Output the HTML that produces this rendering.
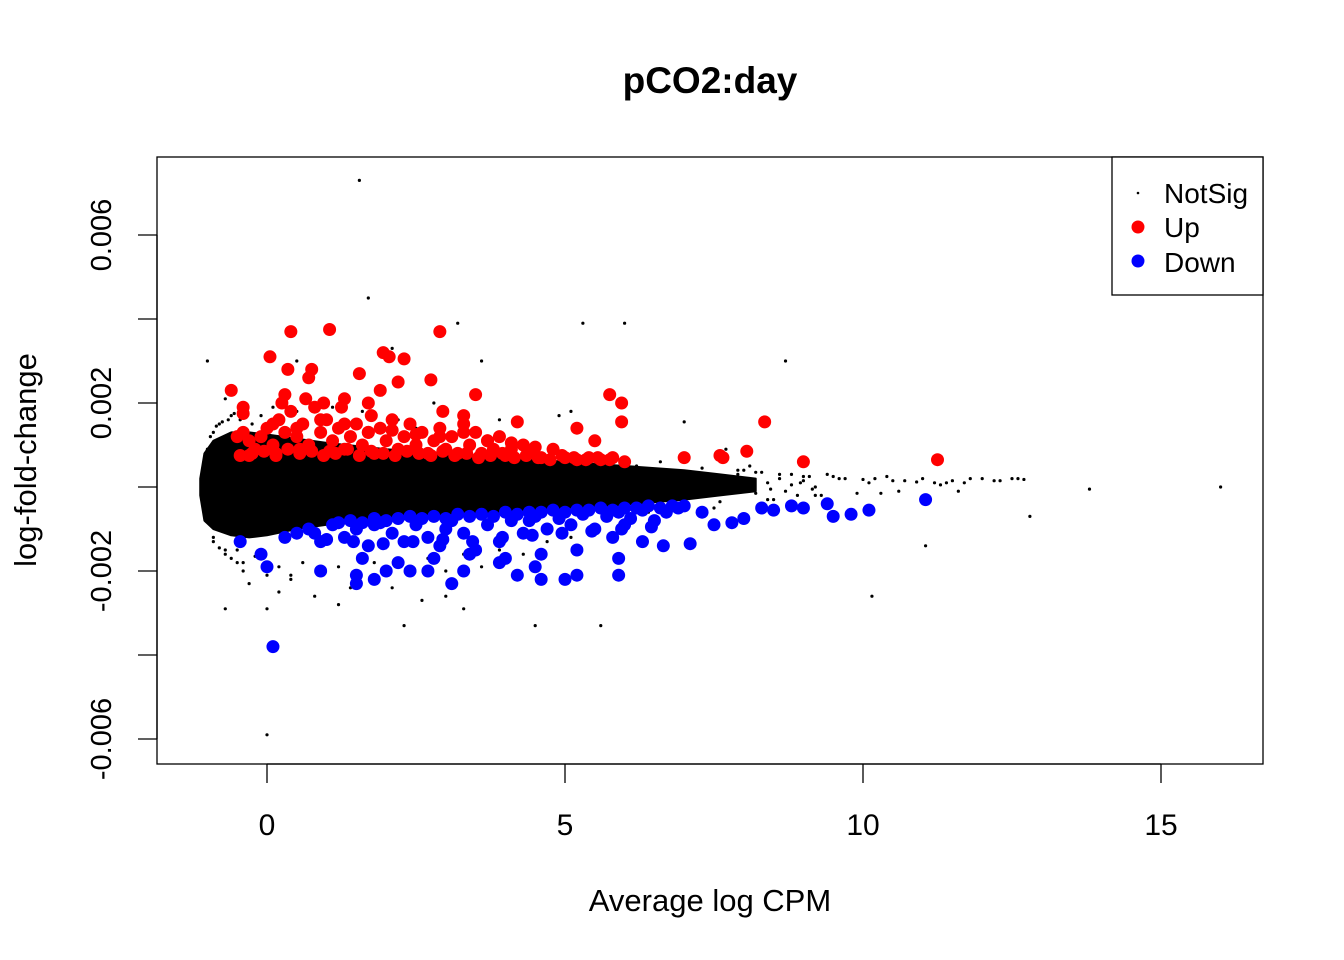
<!DOCTYPE html>
<html><head><meta charset="utf-8"><style>
html,body{margin:0;padding:0;background:#fff}
svg{display:block;font-family:"Liberation Sans",Arial,sans-serif}
</style></head><body>
<svg id="chart" width="1344" height="960" viewBox="0 0 1344 960" xmlns="http://www.w3.org/2000/svg">
<text x="710" y="93" text-anchor="middle" font-size="37" font-weight="bold">pCO2:day</text>
<text x="710" y="911" text-anchor="middle" font-size="31">Average log CPM</text>
<text x="0" y="0" transform="translate(36,460) rotate(-90)" text-anchor="middle" font-size="31">log-fold-change</text>
<g id="plot"></g>
<rect x="157" y="157" width="1106" height="607" fill="none" stroke="#000" stroke-width="1.3"/>
<g>
<rect x="1112" y="157" width="151" height="138" fill="#fff" stroke="#000" stroke-width="1.3"/>
<circle cx="1138" cy="193" r="1.3" fill="#000"/>
<text x="1164" y="203" font-size="28">NotSig</text>
<circle cx="1138" cy="227" r="6.5" fill="#f00"/>
<text x="1164" y="237" font-size="28">Up</text>
<circle cx="1138" cy="261" r="6.5" fill="#00f"/>
<text x="1164" y="272" font-size="28">Down</text>
</g>
</svg>
<script>
const xTicks=[0,5,10,15];
const yTicks=[-0.006,-0.004,-0.002,0,0.002,0.004,0.006];
const yTickLabels=["-0.006","","-0.002","","0.002","","0.006"];
// dense body envelope (logFC in thousandths)
const blobX=[-1.12,-1.05,-0.9,-0.6,-0.3,0,0.5,1,2,3,4,5,6,7,7.6,8.2];
const blobUp=[0.2,0.8,1.1,1.3,1.3,1.25,1.15,1.05,0.9,0.8,0.7,0.6,0.5,0.4,0.3,0.2];
const blobLo=[-0.2,-0.8,-1.0,-1.15,-1.2,-1.15,-1.0,-0.9,-0.8,-0.7,-0.6,-0.5,-0.42,-0.3,-0.2,-0.1];
const nsX=[1.55,1.7,3.2,5.3,6.0,8.7,7.0,7.7,10.15,11.05,12.8,13.8,16.0,0,2.3,4.5,5.6,-0.7,0,-1.0,0.5,2.1,3.6,-0.7,-0.9,-0.8,-0.6,-0.5,-0.3,0.2,0.8,1.2,2.6,3.3,4.6,5.1,6.2,6.6,7.3,7.9,8.2,8.6,9.1,9.6,10.0,10.5,10.9,11.4,11.8,12.2,12.5,12.7,-0.9,-0.7,-0.4,0.4,1.4,2.8,3.9,4.9,6.4,7.5,8.4,9.3,10.3,11.6,-1.0,-0.8,3.0,4.2,
-0.95,-0.85,-0.75,-0.65,-0.55,-0.45,-0.35,-0.25,-0.1,0.1,0.3,0.5,0.7,0.9,1.1,1.3,1.6,1.9,2.2,2.5,-0.9,-0.8,-0.7,-0.6,-0.5,-0.4,-0.2,0,0.2,0.4,0.6,0.9,1.2,1.5,1.8,2.1,2.4,2.7,3.0,3.3,3.6,3.9,4.3,4.7,5.1,5.5,
8.0,8.3,8.5,8.8,9.0,9.2,9.4,9.7,9.9,10.2,10.4,10.7,11.0,11.2,11.5,11.7,12.0,12.3,12.6,7.6,8.1,8.9,9.5,10.1,10.6,11.3,
8.4,8.6,8.8,9.0,9.2,8.45,8.7,8.95,9.15,7.9,8.2];
const nsY=[7.3,4.5,3.9,3.9,3.9,3.0,1.55,0.9,-2.6,-1.4,-0.7,-0.05,0.0,-5.9,-3.3,-3.3,-3.3,-2.9,-2.9,3.0,3.0,3.3,3.0,2.1,1.3,1.5,1.7,-1.8,-2.3,-2.5,-2.6,-2.8,-2.7,-2.9,-1.6,1.8,0.5,0.6,0.45,0.4,0.35,0.3,0.25,0.2,0.18,0.15,0.12,0.1,0.2,0.15,0.2,0.18,-1.2,-1.5,-2.0,-2.1,-2.4,2.0,1.6,1.7,-0.6,-0.5,-0.3,-0.2,-0.15,-0.1,0.9,-1.0,-2.6,-2.0,
1.2,1.45,1.55,1.6,1.75,1.6,1.8,1.5,1.7,1.9,2.1,1.8,2.0,1.7,1.9,1.6,1.8,1.5,1.6,1.4,-1.3,-1.45,-1.6,-1.7,-1.5,-1.8,-1.65,-2.1,-1.9,-2.2,-1.8,-2.0,-1.9,-2.2,-1.8,-2.4,-2.1,-1.7,-2.0,-1.6,-1.9,-1.5,-1.6,-1.3,-1.2,-1.1,
0.4,0.35,-0.3,0.3,0.25,-0.2,0.3,0.2,-0.15,0.2,0.25,0.15,0.2,0.1,0.15,0.1,0.2,0.15,0.2,-0.35,0.5,-0.2,0.25,0.1,-0.1,0.05,
0.1,0.2,0.05,0.15,0.0,-0.05,-0.1,0.1,-0.05,0.3,-0.15];
const upX=[-0.6,-0.4,-0.4,0.05,0.4,0.35,0.3,0.7,0.75,1.05,1.3,1.55,1.7,1.95,2.05,2.3,1.9,2.2,2.75,2.9,3.5,2.95,4.2,3.3,5.2,5.75,5.95,5.95,5.5,7.0,7.6,7.65,8.05,8.35,9.0,11.25,
-0.5,-0.4,-0.3,-0.2,-0.1,0,0.1,0.2,0.3,0.4,0.5,0.6,0.7,0.8,0.9,1.0,1.1,1.2,1.3,1.4,1.5,1.6,1.7,1.8,1.9,2.0,2.1,2.2,2.3,2.4,2.5,2.6,2.7,2.8,2.9,3.0,3.1,3.2,3.3,3.4,3.5,3.6,3.7,3.8,3.9,4.0,4.1,4.3,4.4,4.6,4.8,5.0,5.2,5.4,5.6,5.8,6.0,0.15,0.55,1.05,-0.3,0.25,0.65,1.25,0.95,1.75,
-0.45,-0.25,-0.05,0.15,0.35,0.55,0.75,0.95,1.15,1.35,1.55,1.75,1.95,2.15,2.35,2.55,2.75,2.95,3.15,3.35,3.55,3.75,3.95,4.15,4.35,4.55,4.75,4.95,5.15,5.35,5.55,5.75,
0.1,0.5,0.9,1.3,1.7,2.1,2.5,2.9,3.3,3.7,4.1,4.5];
const upY=[2.3,1.9,1.75,3.1,3.7,2.8,2.2,2.6,2.8,3.75,2.1,2.7,2.0,3.2,3.1,3.05,2.3,2.5,2.55,3.7,2.2,1.8,1.55,1.7,1.4,2.2,2.0,1.55,1.1,0.7,0.75,0.7,0.85,1.55,0.6,0.65,
1.2,1.3,1.1,0.9,1.2,1.4,1.0,1.6,1.3,1.8,1.2,1.5,1.0,1.9,1.3,1.6,1.1,1.4,0.9,1.2,1.5,1.0,1.3,0.8,1.4,1.1,1.6,0.9,1.2,1.5,1.0,1.3,0.8,1.1,1.4,0.9,1.2,0.8,1.5,1.0,1.3,0.8,1.1,0.9,1.2,0.75,0.9,1.0,0.8,0.7,0.9,0.7,0.65,0.7,0.65,0.7,0.6,0.8,0.9,0.85,0.75,2.0,2.1,1.9,2.0,1.7,
0.75,0.8,0.85,0.75,0.9,0.8,0.85,0.75,0.8,0.9,0.75,0.85,0.8,0.75,0.85,0.8,0.75,0.85,0.75,0.8,0.7,0.75,0.8,0.7,0.75,0.7,0.65,0.75,0.7,0.65,0.7,0.65,
1.5,1.4,1.6,1.5,1.3,1.35,1.25,1.2,1.3,1.1,1.05,0.95];
const dnX=[0.1,-0.45,-0.1,0,0.9,1.5,1.8,1.5,2.0,2.4,2.7,3.1,3.3,3.9,4.2,4.5,4.6,5.0,5.2,5.9,5.9,6.3,6.65,7.1,7.5,7.8,8.0,8.5,9.0,9.4,9.5,9.8,10.1,11.05,
0.3,0.5,0.7,0.9,1.1,1.3,1.5,1.7,1.9,2.1,2.3,2.5,2.7,2.9,3.1,3.3,3.5,3.7,3.9,4.1,4.3,4.5,4.7,4.9,5.1,5.3,5.5,5.7,5.9,6.1,6.3,6.5,6.7,6.9,1.6,2.2,2.8,3.4,4.0,4.6,5.2,5.8,0.8,1.8,3.0,4.4,6.0,7.3,8.3,8.8,
1.2,1.4,1.6,1.8,2.0,2.2,2.4,2.6,2.8,3.0,3.2,3.4,3.6,3.8,4.0,4.2,4.4,4.6,4.8,5.0,5.2,5.4,5.6,5.8,6.0,6.2,6.4,6.6,6.8,7.0,
1.0,1.45,1.95,2.45,2.95,3.45,3.95,4.45,4.95,5.45,5.95,6.45];
const dnY=[-3.8,-1.3,-1.6,-1.9,-2.0,-2.1,-2.2,-2.3,-2.0,-2.0,-2.0,-2.3,-2.0,-1.8,-2.1,-1.9,-2.2,-2.2,-2.1,-2.1,-1.7,-1.3,-1.4,-1.35,-0.9,-0.85,-0.75,-0.55,-0.5,-0.4,-0.7,-0.65,-0.55,-0.3,
-1.2,-1.1,-1.0,-1.3,-0.9,-1.2,-1.0,-1.4,-0.85,-1.1,-1.3,-0.9,-1.2,-1.4,-0.8,-1.1,-1.5,-0.9,-1.3,-0.8,-1.1,-0.7,-1.0,-0.75,-0.9,-0.65,-1.0,-0.7,-0.6,-0.75,-0.55,-0.8,-0.6,-0.5,-1.7,-1.8,-1.7,-1.6,-1.7,-1.6,-1.5,-1.2,-1.1,-0.9,-1.0,-0.8,-0.9,-0.6,-0.5,-0.45,
-0.85,-0.8,-0.85,-0.75,-0.8,-0.75,-0.7,-0.75,-0.7,-0.75,-0.65,-0.7,-0.65,-0.7,-0.6,-0.65,-0.6,-0.6,-0.55,-0.6,-0.55,-0.55,-0.5,-0.55,-0.5,-0.5,-0.45,-0.5,-0.45,-0.45,
-1.25,-1.3,-1.35,-1.3,-1.25,-1.3,-1.2,-1.15,-1.1,-1.05,-1.0,-0.95];

const NS="http://www.w3.org/2000/svg";
const sx=v=>267+v*59.6;
const sy=v=>487-v*42000;
const sk=v=>487-v*42;
const svg=document.getElementById('chart');
const g=document.getElementById('plot');
function mk(t,a,parent){const e=document.createElementNS(NS,t);for(const k in a)e.setAttribute(k,a[k]);(parent||svg).appendChild(e);return e;}
const xa=mk('g',{});


mk('line',{x1:sx(0),x2:sx(15),y1:764,y2:764,stroke:'#000','stroke-width':1.3},xa);
xTicks.forEach(t=>{
 mk('line',{x1:sx(t),x2:sx(t),y1:764,y2:783,stroke:'#000','stroke-width':1.3},xa);
 const tx=mk('text',{x:sx(t),y:835,'text-anchor':'middle','font-size':30},xa);
 
 
 tx.textContent=t;
});
const ya=mk('g',{});


mk('line',{x1:157,x2:157,y1:sy(-0.006),y2:sy(0.006),stroke:'#000','stroke-width':1.3},ya);
yTicks.forEach((t,i)=>{
 mk('line',{x1:138,x2:157,y1:sy(t),y2:sy(t),stroke:'#000','stroke-width':1.3},ya);
 if(yTickLabels[i]){
  const tx=mk('text',{x:0,y:0,transform:`translate(111,${sy(t)}) rotate(-90)`,'text-anchor':'middle','font-size':29},ya);
  
  
  tx.textContent=yTickLabels[i];
 }
});
let d='M'+blobX.map((x,i)=>sx(x)+','+sk(blobUp[i])).join(' L');
for(let i=blobX.length-1;i>=0;i--)d+=' L'+sx(blobX[i])+','+sk(blobLo[i]);
const body=mk('path',{d:d+'Z',fill:'#000',stroke:'#000','stroke-width':2,'stroke-linejoin':'round'},g);


nsX.forEach((x,i)=>{
 const c=mk('circle',{cx:sx(x),cy:sk(nsY[i]),r:1.6,fill:'#000'},g);
 
 
});
upX.forEach((x,i)=>{
 const c=mk('circle',{cx:sx(x),cy:sk(upY[i]),r:6.5,fill:'#f00'},g);
 
 
});
dnX.forEach((x,i)=>{
 const c=mk('circle',{cx:sx(x),cy:sk(dnY[i]),r:6.5,fill:'#00f'},g);
 
 
});
</script>
</body></html>
